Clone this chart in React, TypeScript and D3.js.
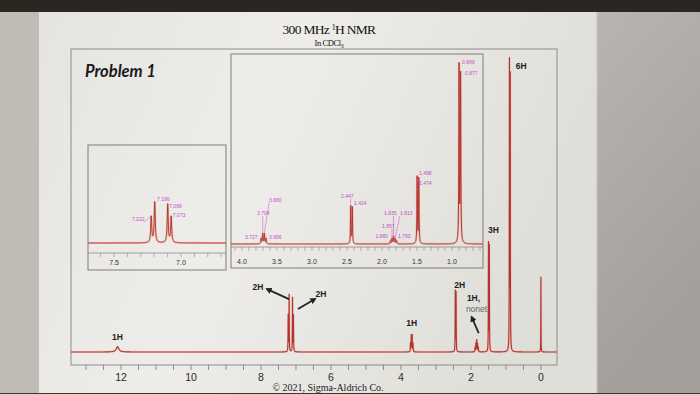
import React, { useMemo } from 'react';
import * as d3 from 'd3';

// Peak list: shift (ppm), height (6H line ~ 100), half width (ppm)
const peakPpm = [12.1, 7.222, 7.196, 7.099, 7.073, 3.727, 3.704, 3.68, 3.656, 2.447, 2.424, 1.88, 1.857, 1.835, 1.813, 1.79, 1.498, 1.474, 0.899, 0.877, 0.0];
const peakHeight = [1.8, 12.6, 19.7, 18.7, 12.6, 3.0, 5.8, 5.8, 3.0, 21, 20.5, 1.7, 3.0, 4.1, 3.0, 1.7, 37.4, 36.5, 99, 94, 26];
const peakHwhm = [0.045, 0.0045, 0.0045, 0.0045, 0.0045, 0.005, 0.005, 0.005, 0.005, 0.004, 0.004, 0.005, 0.005, 0.005, 0.005, 0.005, 0.004, 0.004, 0.004, 0.004, 0.003];

// integration annotations on the full spectrum
const integrationText = ['1H', '2H', '2H', '1H', '2H', '1H,', '3H', '6H'];
const integrationPpm = [12.1, 7.21, 7.086, 3.69, 2.435, 1.835, 1.486, 0.888];
const nonetNote = 'nonet';

// tick labels
const mainTickLabels = [12, 10, 8, 6, 4, 2, 0];
const aromaticTickLabels = [7.5, 7.0];
const aliphaticTickLabels = [4.0, 3.5, 3.0, 2.5, 2.0, 1.5, 1.0];

// which peaks carry a shift label in each zoom box
const aromaticLabelPpm = [7.222, 7.196, 7.099, 7.073];
const aliphaticLabelPpm = [3.727, 3.704, 3.68, 3.656, 2.447, 2.424, 1.88, 1.857, 1.835, 1.813, 1.79, 1.498, 1.474, 0.899, 0.877];

// label placement (offset from the peak top), kept apart from the data
const shiftLabelOffset: Record<string, [number, number]> = {
  '7.222': [-19.3, 4], '7.196': [2.3, -1.4], '7.099': [1.5, 3.5], '7.073': [1.5, 0],
  '3.727': [-16, 0.5], '3.704': [-5.7, -18.7], '3.680': [4.6, -31.7], '3.656': [3, 0.3],
  '2.447': [-9.7, -8.6], '2.424': [1.7, -2.5],
  '1.880': [-15, -3], '1.857': [-10, -10.7], '1.835': [-9.5, -21.7], '1.813': [4.9, -23.7], '1.790': [1.3, -3],
  '1.498': [1.9, -2.4], '1.474': [0.2, 6], '0.899': [3, -3.8], '0.877': [4.4, -1.7],
};
const integrationLayout = [
  { dx: 0, dy: -7, anchor: 'middle' },
  { dx: -30.6, dy: -5, anchor: 'middle', arrow: [0.4, 4, -21.6, -6] },
  { dx: 28, dy: -1, anchor: 'middle', arrow: [5, 11, 22, 1] },
  { dx: 0, dy: -9, anchor: 'middle' },
  { dx: 4, dy: -3, anchor: 'middle' },
  { dx: -9.8, dy: -39, anchor: 'start', arrow: [2, -7, -5, -23] },
  { dx: -1, dy: -11, anchor: 'start' },
  { dx: 6, dy: 3, anchor: 'start' },
];

const SANS = 'Liberation Sans, Arial, sans-serif';
const SERIF = 'Liberation Serif, Times New Roman, serif';
const RED = '#b3342c';
const HALO = '#e6aaa4';
const MAGENTA = '#c24fc8';

const intensity = (ppm: number) => {
  let s = 0;
  for (let i = 0; i < peakPpm.length; i++) {
    const u = (ppm - peakPpm[i]) / peakHwhm[i];
    s += peakHeight[i] / (1 + u * u);
  }
  return s;
};

const sample = (from: number, to: number, step: number): [number, number][] => {
  const xs = d3.range(from, to, -step).concat(peakPpm.filter((p) => p <= from && p >= to));
  xs.sort((a, b) => b - a);
  return xs.map((p) => [p, intensity(p)]);
};

const fmt = d3.format('.1f');

export default function App() {
  const main = useMemo(() => {
    const x = d3.scaleLinear().domain([13.43, -0.46]).range([71, 557]);
    const y = d3.scaleLinear().domain([0, 100]).range([352, 63]);
    const line = d3.line<[number, number]>().x((d) => x(d[0])).y((d) => y(d[1]));
    const path = line(sample(13.43, -0.46, 0.002)) || '';
    const ticks = d3.range(0, 27).map((i) => i * 0.5).filter((t) => t <= 13.43);
    return { x, y, path, ticks };
  }, []);

  const aro = useMemo(() => {
    const x = d3.scaleLinear().domain([7.694, 6.664]).range([88, 226]);
    const y = d3.scaleLinear().domain([0, 20]).range([243, 201.8]);
    const line = d3.line<[number, number]>().x((d) => x(d[0])).y((d) => y(d[1]));
    const path = line(sample(7.694, 6.664, 0.0005)) || '';
    const ticks = d3.range(67, 77).map((i) => i / 10);
    return { x, y, path, ticks };
  }, []);

  const ali = useMemo(() => {
    const x = d3.scaleLinear().domain([4.157, 0.557]).range([231, 483]);
    const y = d3.scaleLinear().domain([0, 100]).range([244, 66]);
    const line = d3.line<[number, number]>().x((d) => x(d[0])).y((d) => y(d[1]));
    const path = line(sample(4.157, 0.557, 0.001)) || '';
    const ticks = d3.range(6, 42).map((i) => i / 10);
    return { x, y, path, ticks };
  }, []);

  const peakTop = (p: number) => {
    const near = peakPpm.map((q, i) => (Math.abs(q - p) < 0.04 ? peakHeight[i] : 0));
    return Math.max(...near);
  };

  const shiftLabels = (
    ppms: number[],
    x: d3.ScaleLinear<number, number>,
    y: d3.ScaleLinear<number, number>,
    key: string
  ) =>
    ppms.map((p) => {
      const label = p.toFixed(3);
      const h = peakHeight[peakPpm.indexOf(p)];
      const px = x(p);
      const py = y(h);
      const [dx, dy] = shiftLabelOffset[label];
      const tx = px + dx;
      const ty = py + dy;
      const w = 12.5;
      const lx = Math.max(tx, Math.min(tx + w, px));
      const ly = ty + 1;
      const dist = Math.hypot(lx - px, ly - py);
      return (
        <g key={`${key}-${label}`}>
          {dist > 5 && (
            <line x1={lx} y1={ly} x2={px} y2={py - 1} stroke={MAGENTA} strokeWidth={0.5} />
          )}
          <text x={tx} y={ty} fontSize={5} fill={MAGENTA} fontFamily={SANS}>
            {label}
          </text>
        </g>
      );
    });

  return (
    <svg
      width={700}
      height={394}
      style={{ position: 'absolute', left: 0, top: 0, display: 'block' }}
    >
      <defs>
        <linearGradient id="pageGrad" x1="0" y1="0" x2="1" y2="0.3">
          <stop offset="0%" stopColor="#e6e4e0" />
          <stop offset="45%" stopColor="#eeede9" />
          <stop offset="100%" stopColor="#e0ded9" />
        </linearGradient>
        <linearGradient id="rightGrad" x1="0" y1="0" x2="0.3" y2="1">
          <stop offset="0%" stopColor="#b9b6b1" />
          <stop offset="100%" stopColor="#a29f9a" />
        </linearGradient>
        <clipPath id="mainClip">
          <rect x={71} y={49} width={486} height={316} />
        </clipPath>
        <clipPath id="aroClip">
          <rect x={88} y={145} width={138} height={108} />
        </clipPath>
        <clipPath id="aliClip">
          <rect x={231} y={54} width={252} height={193} />
        </clipPath>
        <marker id="arrowHead" viewBox="0 0 10 10" refX={7} refY={5} markerWidth={3.6} markerHeight={3.6} orient="auto">
          <path d="M0,0L10,5L0,10z" fill="#222" />
        </marker>
      </defs>

      {/* photo background */}
      <rect x={0} y={0} width={700} height={394} fill="#bfbcb6" />
      <rect x={596} y={0} width={104} height={394} fill="url(#rightGrad)" />
      <rect x={39} y={0} width={557} height={394} fill="url(#pageGrad)" />
      <line x1={596.5} y1={10} x2={596.5} y2={394} stroke="#d6d4d0" strokeWidth={1.5} />
      <rect x={0} y={0} width={700} height={12} fill="#2a2622" />
      <rect x={0} y={393} width={700} height={1} fill="#3a3632" />

      {/* title */}
      <text x={329} y={34} textAnchor="middle" fontFamily={SERIF} fontSize={13.5} letterSpacing={-0.7} fill="#111">
        300 MHz <tspan fontSize={8} dy={-4}>1</tspan>
        <tspan dy={4}>H NMR</tspan>
      </text>
      <text x={329} y={46} textAnchor="middle" fontFamily={SERIF} fontSize={8.5} letterSpacing={-0.4} fill="#111">
        In CDCl<tspan fontSize={6} dy={2}>3</tspan>
      </text>

      {/* main frame */}
      <rect x={71} y={49} width={486} height={316} fill="none" stroke="#8c8c8a" strokeWidth={1} />
      <text x={85} y={77} fontFamily="Lato, Liberation Sans, sans-serif" fontStyle="italic" fontWeight={700} fontSize={16.5} fill="#1a1a1a">
        Problem 1
      </text>

      {/* main axis */}
      <g>
        {main.ticks.map((t) => (
          <line key={`mt-${t}`} x1={main.x(t)} x2={main.x(t)} y1={365} y2={370} stroke="#777" strokeWidth={0.8} />
        ))}
        {mainTickLabels.map((t) => (
          <text key={`ml-${t}`} x={main.x(t)} y={381} textAnchor="middle" fontFamily={SANS} fontSize={10.5} fill="#2a2a2a">
            {t}
          </text>
        ))}
      </g>

      {/* main spectrum */}
      <g clipPath="url(#mainClip)">
        <path d={main.path} fill="none" stroke={HALO} strokeWidth={2.2} strokeOpacity={0.55} />
        <path d={main.path} fill="none" stroke={RED} strokeWidth={1.1} />
      </g>

      {/* integration annotations */}
      {integrationText.map((txt, i) => {
        const p = integrationPpm[i];
        const lay = integrationLayout[i] as any;
        const px = main.x(p);
        const py = main.y(peakTop(p));
        return (
          <g key={`int-${i}`}>
            <text
              x={px + lay.dx}
              y={py + lay.dy}
              textAnchor={lay.anchor}
              fontFamily={SANS}
              fontWeight={700}
              fontSize={8.5}
              fill="#1e1e1e"
            >
              {txt}
            </text>
            {txt === '1H,' && (
              <text x={px + lay.dx - 1} y={py + lay.dy + 11} fontFamily={SANS} fontSize={8.5} fill="#666">
                {nonetNote}
              </text>
            )}
            {lay.arrow && (
              <line
                x1={px + lay.arrow[0]}
                y1={py + lay.arrow[1]}
                x2={px + lay.arrow[2]}
                y2={py + lay.arrow[3]}
                stroke="#222"
                strokeWidth={1.8}
                markerEnd="url(#arrowHead)"
              />
            )}
          </g>
        );
      })}

      {/* aromatic zoom box */}
      <rect x={88} y={145} width={138} height={125} fill="none" stroke="#7d7d7b" strokeWidth={1} />
      <line x1={88} x2={226} y1={253} y2={253} stroke="#8a8a88" strokeWidth={0.8} />
      {aro.ticks.map((t) => (
        <line key={`at-${t}`} x1={aro.x(t)} x2={aro.x(t)} y1={253} y2={257} stroke="#888" strokeWidth={0.6} />
      ))}
      {aromaticTickLabels.map((t) => (
        <text key={`al-${t}`} x={aro.x(t)} y={265} textAnchor="middle" fontFamily={SANS} fontSize={7} fill="#333">
          {fmt(t)}
        </text>
      ))}
      <g clipPath="url(#aroClip)">
        <path d={aro.path} fill="none" stroke={HALO} strokeWidth={2.2} strokeOpacity={0.6} />
        <path d={aro.path} fill="none" stroke={RED} strokeWidth={1} />
      </g>
      {shiftLabels(aromaticLabelPpm, aro.x, aro.y, 'aro')}

      {/* aliphatic zoom box */}
      <rect x={231} y={54} width={252} height={214} fill="none" stroke="#7d7d7b" strokeWidth={1} />
      <line x1={231} x2={483} y1={247} y2={247} stroke="#8a8a88" strokeWidth={0.8} />
      {ali.ticks.map((t) => (
        <line key={`lt-${t}`} x1={ali.x(t)} x2={ali.x(t)} y1={247} y2={251} stroke="#888" strokeWidth={0.6} />
      ))}
      {aliphaticTickLabels.map((t) => (
        <text key={`ll-${t}`} x={ali.x(t)} y={264} textAnchor="middle" fontFamily={SANS} fontSize={7} fill="#333">
          {fmt(t)}
        </text>
      ))}
      <g clipPath="url(#aliClip)">
        <path d={ali.path} fill="none" stroke={HALO} strokeWidth={2.2} strokeOpacity={0.6} />
        <path d={ali.path} fill="none" stroke={RED} strokeWidth={1} />
      </g>
      {shiftLabels(aliphaticLabelPpm, ali.x, ali.y, 'ali')}

      {/* footer */}
      <text x={328} y={391} textAnchor="middle" fontFamily={SERIF} fontSize={10} fill="#222">
        © 2021, Sigma-Aldrich Co.
      </text>
    </svg>
  );
}
